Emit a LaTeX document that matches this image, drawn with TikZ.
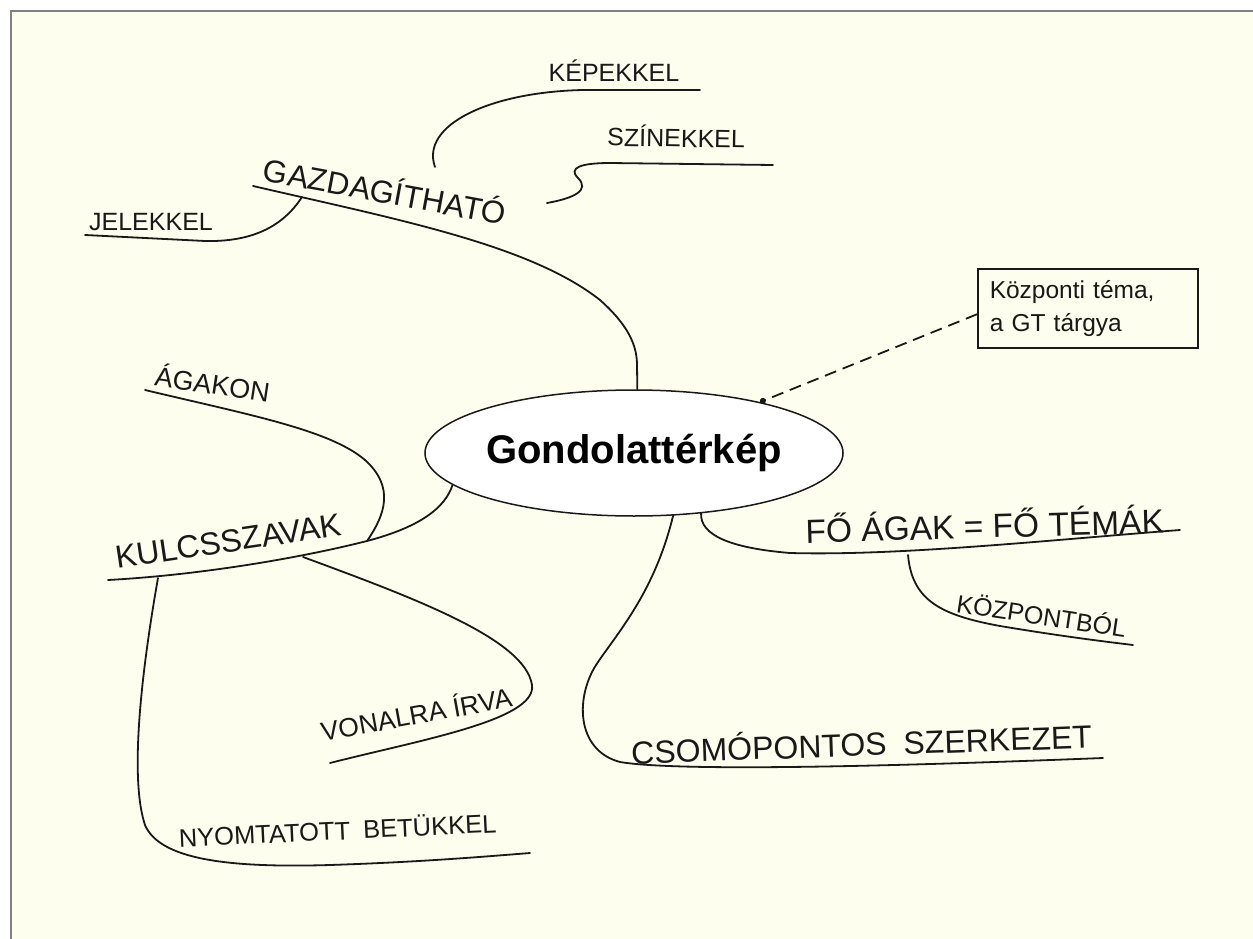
\documentclass[tikz,border=0pt]{standalone}
\usepackage{fontspec}
\setmainfont{Liberation Sans}
\usetikzlibrary{shapes.geometric,arrows.meta}
\definecolor{bgcream}{RGB}{254,254,238}
\definecolor{framegray}{RGB}{128,128,128}
\definecolor{ink}{RGB}{25,25,25}
\newcommand{\fsz}[1]{\fontsize{#1pt}{1.2\dimexpr#1pt\relax}\selectfont}
\begin{document}
\begin{tikzpicture}[x=1pt,y=-1pt,
  br/.style={line width=1.8pt, line cap=round, draw=ink},
  lab/.style={inner sep=0pt, anchor=base, text=ink}]
\useasboundingbox (0,0) rectangle (1253,939);
\fill[white] (0,0) rectangle (1253,939);
\fill[bgcream] (11,11) rectangle (1253,939);
\draw[framegray, line width=2.5pt] (11,939) -- (11,11) -- (1253,11);

% central node
\node[ellipse, draw=ink, fill=white, line width=1.5pt, minimum width=410pt, minimum height=126pt,
      inner sep=0pt, font=\bfseries\fsz{40}] (c) at (634,453) {Gondolattérkép};

% labels
\node[lab, font=\fsz{31.5}, rotate=-10.5] (gaz) at (383,203) {GAZDAGÍTHATÓ};
\node[lab, font=\fsz{25}] (kep) at (614,82) {KÉPEKKEL};
\node[lab, font=\fsz{25}, rotate=-1] (szin) at (676,147) {SZÍNEKKEL};
\node[lab, font=\fsz{25}] (jel) at (151,230) {JELEKKEL};
\node[lab, font=\fsz{27}, rotate=-8.5] (aga) at (211,394) {ÁGAKON};
\node[lab, font=\fsz{32}, rotate=8.5] (kulcs) at (230,552) {KULCSSZAVAK};
\node[lab, font=\fsz{26.5}, rotate=10.3] (von) at (418,724) {VONALRA ÍRVA};
\node[lab, font=\fsz{25.5}, rotate=2.7] (nyom) at (338,840) {NYOMTATOTT\hspace{6pt} BETÜKKEL};
\node[lab, font=\fsz{32}, rotate=2] (csom) at (862,756) {CSOMÓPONTOS\hspace{8pt} SZERKEZET};
\node[lab, font=\fsz{33.5}, rotate=1.6] (fo) at (985,538) {FŐ ÁGAK = FŐ TÉMÁK};
\node[lab, font=\fsz{25}, rotate=-8.5] (kozp) at (1040,625) {KÖZPONTBÓL};

% note box
\node[draw=ink, line width=1.5pt, align=left, font=\fontsize{24.5pt}{33pt}\selectfont, inner xsep=12pt,
      anchor=north west, minimum width=220pt, minimum height=79pt, text width=196pt, text=ink]
      (box) at (977,268) {Központi téma,\\ a GT tárgya};

% coordinates
\coordinate (gz0) at (253,186);
\coordinate (jl0) at (302,197);
\coordinate (jl1) at (85,235);
\coordinate (kp0) at (435,167);
\coordinate (kp1) at (700,90);
\coordinate (sz0) at (547,203);
\coordinate (sz1) at (773,165);
\coordinate (ag0) at (145,390);
\coordinate (ku0) at (108,580);
\coordinate (kuA) at (367,541);
\coordinate (kuV) at (303,557);
\coordinate (kuN) at (158,578);
\coordinate (vo1) at (330,763);
\coordinate (ny1) at (530,853);
\coordinate (cs1) at (1103,758);
\coordinate (fo1) at (1180,530);
\coordinate (foK) at (908,555);
\coordinate (ko1) at (1133,645);

% branches
\draw[br] (gz0) .. controls (400,220) and (530,245) .. (600,300)
          .. controls (628,325) and (637,345) .. (637,365) -- (c.87);
\draw[br] (jl0) .. controls (282,228) and (250,242) .. (205,241) -- (jl1);
\draw[br] (kp0) .. controls (420,125) and (490,92) .. (583,90) -- (kp1);
\draw[br] (sz0) .. controls (575,198) and (590,190) .. (578,178)
          .. controls (568,168) and (580,163) .. (610,163) -- (sz1);
\draw[br] (ag0) .. controls (250,415) and (330,430) .. (365,460)
          .. controls (395,487) and (385,515) .. (kuA);
\draw[br] (ku0) .. controls (200,575) and (300,558) .. (kuA)
          .. controls (420,527) and (445,508) .. (c.190);
\draw[br] (kuV) .. controls (420,600) and (525,640) .. (532,685)
          .. controls (537,720) and (420,740) .. (vo1);
\draw[br] (kuN) .. controls (140,680) and (130,780) .. (145,825)
          .. controls (160,860) and (230,868) .. (330,865)
          .. controls (420,862) and (480,857) .. (ny1);
\draw[br] (c.-58.5) .. controls (655,590) and (620,630) .. (598,662)
          .. controls (575,695) and (575,750) .. (620,762)
          .. controls (680,772) and (900,766) .. (cs1);
\draw[br] (c.-42) .. controls (700,535) and (730,548) .. (790,553)
          .. controls (900,556) and (1050,540) .. (fo1);
\draw[br] (foK) .. controls (912,600) and (940,615) .. (1000,626)
          .. controls (1060,636) and (1100,641) .. (ko1);

% dashed pointer
\draw[draw=ink, line width=1.8pt, dash pattern=on 12pt off 7pt, -{Circle[length=6pt]}]
      ([yshift=-6pt]box.west) -- (c.22);
\end{tikzpicture}
\end{document}
